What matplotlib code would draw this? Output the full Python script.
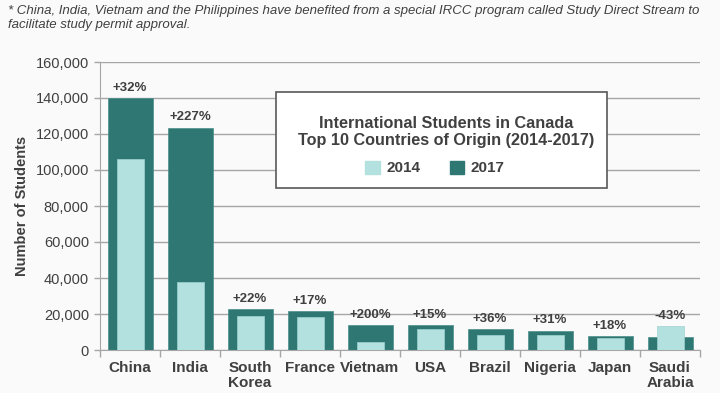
import matplotlib
matplotlib.use("Agg")
import matplotlib.pyplot as plt
from matplotlib.ticker import FuncFormatter, FixedLocator
from matplotlib.patches import Patch, Rectangle

countries = ["China", "India", "South\nKorea", "France", "Vietnam", "USA", "Brazil", "Nigeria", "Japan", "Saudi\nArabia"]
students_2014 = [106000, 37800, 18900, 18300, 4600, 11900, 8500, 8200, 6600, 13100]
students_2017 = [140000, 123600, 22900, 21400, 13800, 13700, 11600, 10750, 7800, 7400]
pct_labels = ["+32%", "+227%", "+22%", "+17%", "+200%", "+15%", "+36%", "+31%", "+18%", "-43%"]

DARK = "#2e7773"
LIGHT = "#b3e1df"
TXT = "#404040"
BG = "#fafafa"
W, H = 720, 393

plt.rcParams['font.family'] = ['Liberation Sans', 'DejaVu Sans']

fig = plt.figure(figsize=(7.2, 3.93), dpi=100, facecolor=BG)
ax = fig.add_axes([100/W, 1-350/H, 600/W, 288/H])
ax.set_facecolor(BG)

x = list(range(len(countries)))
ax.bar(x, students_2017, width=0.75, color=DARK, edgecolor="#4a8f8b", linewidth=0.5, zorder=2)
ax.bar(x, students_2014, width=0.45, color=LIGHT, edgecolor="#9fd3d0", linewidth=0.5, zorder=3)

for i, lab in enumerate(pct_labels):
    top = max(students_2014[i], students_2017[i])
    ax.annotate(lab, (i, top), xytext=(0, 3), textcoords="offset points",
                ha="center", va="bottom", fontsize=9.5, fontweight="bold", color=TXT, zorder=4)

ax.set_xlim(-0.5, len(countries) - 0.5)
ax.set_ylim(0, 160000)
ax.set_yticks(range(0, 160001, 20000))
ax.yaxis.set_major_formatter(FuncFormatter(lambda v, p: f"{int(v):,}"))
ax.grid(axis="y", color="#a6a6a6", linewidth=1, zorder=0)
ax.set_axisbelow(True)

ax.set_xticks(x)
ax.set_xticklabels(countries, fontsize=11, fontweight="bold", color=TXT, linespacing=1.1)
ax.xaxis.set_minor_locator(FixedLocator([i + 0.5 for i in range(-1, len(countries))]))
ax.tick_params(axis="x", which="major", length=0, pad=8)
ax.tick_params(axis="x", which="minor", length=5, color="#a6a6a6", width=1)
ax.tick_params(axis="y", length=4, color="#a6a6a6", width=1, labelsize=10.5, labelcolor=TXT, pad=4)

for s in ["top", "right"]:
    ax.spines[s].set_visible(False)
ax.spines["left"].set_color("#a6a6a6")
ax.spines["bottom"].set_color("#a6a6a6")

ax.set_ylabel("Number of Students", fontsize=10.5, fontweight="bold", color=TXT, labelpad=5)

# legend box
bx0, by0, bx1, by1 = 276, 92, 607, 188
fig.patches.append(Rectangle((bx0/W, 1-by1/H), (bx1-bx0)/W, (by1-by0)/H,
                             transform=fig.transFigure, facecolor="white",
                             edgecolor="#595959", linewidth=1.2, zorder=5))
fig.text(446/W, 1-132/H, "International Students in Canada\nTop 10 Countries of Origin (2014-2017)",
         ha="center", va="center", fontsize=11.7, fontweight="bold", color=TXT,
         linespacing=1.25, zorder=6, multialignment="center")

handles = [Patch(facecolor=LIGHT, edgecolor=LIGHT, label="2014"),
           Patch(facecolor=DARK, edgecolor=DARK, label="2017")]
leg = fig.legend(handles=handles, ncol=2, loc="center",
                 bbox_to_anchor=(435/W, 1-168/H),
                 frameon=False, prop={"weight": "bold", "size": 11},
                 handlelength=0.95, handleheight=0.95, handletextpad=0.45,
                 columnspacing=1.9, labelcolor=TXT, borderpad=0)
leg.set_zorder(7)

fig.text(8/W, 1-5/H,
         "* China, India, Vietnam and the Philippines have benefited from a special IRCC program called Study Direct Stream to\nfacilitate study permit approval.",
         fontsize=9.5, style="italic", color=TXT, ha="left", va="top", linespacing=1.25)

fig.savefig("out.png", dpi=100, facecolor=BG)
